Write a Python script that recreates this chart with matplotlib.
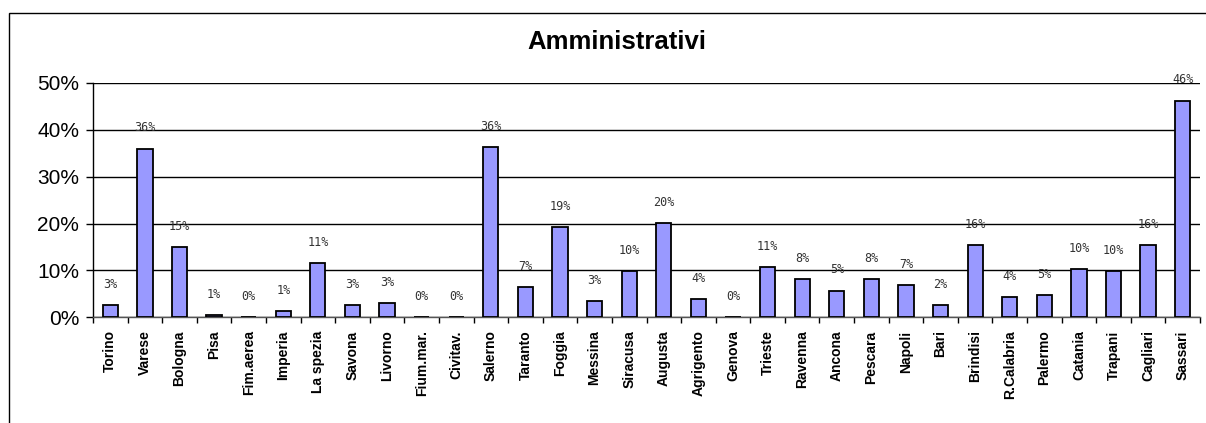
import matplotlib
matplotlib.use("Agg")
import matplotlib.pyplot as plt
from matplotlib.patches import Rectangle
from matplotlib.ticker import FuncFormatter, FixedLocator
import numpy as np

categories = ["Torino", "Varese", "Bologna", "Pisa", "Fim.aerea", "Imperia", "La spezia",
              "Savona", "Livorno", "Fium.mar.", "Civitav.", "Salerno", "Taranto", "Foggia",
              "Messina", "Siracusa", "Augusta", "Agrigento", "Genova", "Trieste", "Ravenna",
              "Ancona", "Pescara", "Napoli", "Bari", "Brindisi", "R.Calabria", "Palermo",
              "Catania", "Trapani", "Cagliari", "Sassari"]
values = [2.6, 36.0, 15.0, 0.5, 0.0, 1.3, 11.6, 2.6, 3.0, 0.0, 0.0, 36.3, 6.4, 19.3,
          3.5, 9.9, 20.1, 3.9, 0.0, 10.7, 8.1, 5.7, 8.1, 6.9, 2.6, 15.4, 4.3, 4.7,
          10.3, 9.9, 15.4, 46.2]
labels = ["3%", "36%", "15%", "1%", "0%", "1%", "11%", "3%", "3%", "0%", "0%", "36%", "7%",
          "19%", "3%", "10%", "20%", "4%", "0%", "11%", "8%", "5%", "8%", "7%", "2%", "16%",
          "4%", "5%", "10%", "10%", "16%", "46%"]
title = "Amministrativi"
yticks = [0, 10, 20, 30, 40, 50]

W, H = 1206, 423
fig = plt.figure(figsize=(W / 100, H / 100), dpi=100)
plt.rcParams['font.family'] = ['Liberation Sans', 'DejaVu Sans']

# outer chart frame
fig.patches.append(Rectangle((9 / W, -0.1), 1.2, 1 - 13 / H + 0.1, transform=fig.transFigure,
                             fill=False, edgecolor='black', linewidth=1.0))

left, right = 93 / W, 1200 / W
bottom, top = 1 - 317.3 / H, 1 - 83 / H
ax = fig.add_axes([left, bottom, right - left, top - bottom])

n = len(categories)
x = np.arange(n)
ax.bar(x, values, width=0.44, color='#9999FF', edgecolor='black', linewidth=1.3, zorder=3)

for xi, v, lab in zip(x, values, labels):
    ax.annotate(lab, (xi, v), xytext=(0, 15), textcoords='offset points',
                ha='center', va='center', fontsize=8.5, color='#333333',
                family='DejaVu Sans Mono')

ax.set_xlim(-0.5, n - 0.5)
ax.set_ylim(0, 50)
ax.set_yticks(yticks)
ax.yaxis.set_major_formatter(FuncFormatter(lambda v, p: f"{int(v)}%"))
ax.tick_params(axis='y', labelsize=15, length=5, width=1, direction='out', pad=5)
ax.yaxis.grid(True, color='black', linewidth=1.0, zorder=0)
ax.set_axisbelow(True)

ax.xaxis.set_major_locator(FixedLocator(np.arange(-0.5, n, 1.0)))
ax.xaxis.set_major_formatter(plt.NullFormatter())
ax.xaxis.set_minor_locator(FixedLocator(x))
ax.set_xticklabels(categories, minor=True, rotation=90, fontsize=10, fontweight='bold')
ax.tick_params(axis='x', which='major', length=4, width=1, direction='out')
ax.tick_params(axis='x', which='minor', length=0, pad=9.5)

for s in ['top', 'right']:
    ax.spines[s].set_visible(False)
ax.spines['left'].set_linewidth(1.0)
ax.spines['bottom'].set_linewidth(1.0)
ax.spines['bottom'].set_color('#555555')

fig.text(617 / W, 1 - 42 / H, title, ha='center', va='center', fontsize=18.5, fontweight='bold')

fig.savefig('out.png', dpi=100)
